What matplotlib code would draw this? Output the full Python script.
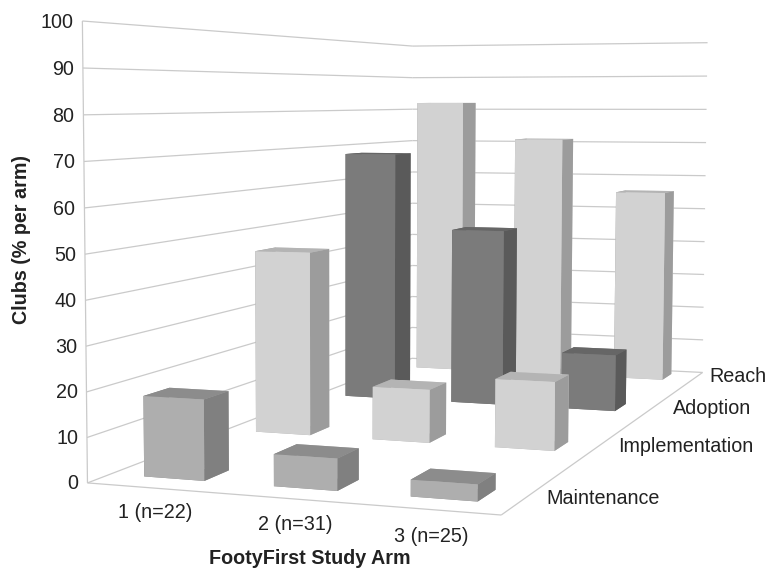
import numpy as np
import matplotlib
matplotlib.use('Agg')
from matplotlib import pyplot as plt
from mpl_toolkits.mplot3d import proj3d
from mpl_toolkits.mplot3d.art3d import Line3DCollection

plt.rcParams['font.family'] = ['Liberation Sans', 'DejaVu Sans']

arms = ['1 (n=22)', '2 (n=31)', '3 (n=25)']
stages = ['Maintenance', 'Implementation', 'Adoption', 'Reach']
maintenance = [18, 7, 3.6]
implementation = [45.5, 13, 16.5]
adoption = [68, 47.5, 15]
reach = [82, 71, 55.5]
yticks = list(range(0, 101, 10))

W, H = 769, 568

# box corners in world coords -> pixel position in the reference
world = [(0, 0, 0), (3, 0, 0), (3, 4, 0), (0, 4, 0),
         (0, 0, 100), (0, 4, 100), (3, 4, 100)]
pixel = [(88, 483), (500, 516), (703, 371), (412, 359),
         (83, 20), (412, 46), (708, 43.5)]


def fit_camera(world, pixel):
    """least squares camera matrix, returned as 4x4 for mplot3d"""
    A, b = [], []
    for (x, y, z), (u, v) in zip(world, pixel):
        A.append([x, y, z, 1, 0, 0, 0, 0, -u*x, -u*y, -u*z])
        A.append([0, 0, 0, 0, x, y, z, 1, -v*x, -v*y, -v*z])
        b += [u, v]
    p = np.linalg.lstsq(np.array(A, float), np.array(b, float), rcond=None)[0]
    return np.array([p[:4], p[4:8], [0, 0, 0, -1], [p[8], p[9], p[10], 1]])


M = fit_camera(world, pixel)

fig = plt.figure(figsize=(W/100, H/100), dpi=100)
ax = fig.add_axes([0, 0, 1, 1], projection='3d')
ax.computed_zorder = False
ax.get_proj = lambda: M
ax.apply_aspect = lambda position=None: None
ax.set_axis_off()
ax.set_xlim(0, 3), ax.set_ylim(0, 4), ax.set_zlim(0, 100)
ax.viewLim.intervalx = (0, W)
ax.viewLim.intervaly = (H, 0)

# walls and floor
segs = []
for v in yticks:
    segs.append([(0, 0, v), (0, 4, v)])
    segs.append([(0, 4, v), (3, 4, v)])
    px, py, _ = proj3d.proj_transform(-0.07, 0, v - 0.3, M)
    fig.text(px/W, 1 - py/H, str(v), ha='right', va='center', fontsize=14.2, color='#222222')
segs.append([(0, 0, 0), (3, 0, 0)])
segs.append([(3, 0, 0), (3, 4, 0)])
segs.append([(0, 0, 0), (0, 0, 100)])
ax.add_collection3d(Line3DCollection(segs, colors='#cacaca', linewidths=0.9, zorder=1))

light = ['#b0b0b0', '#b4b4b4', '#d2d2d2', '#d2d2d2', '#9c9c9c', '#9c9c9c']
mid = ['#8c8c8c', '#8c8c8c', '#aeaeae', '#aeaeae', '#808080', '#808080']
dark = ['#636363', '#666666', '#7b7b7b', '#7b7b7b', '#5a5a5a', '#5a5a5a']

series = [maintenance, implementation, adoption, reach]
colors = [mid, light, dark, light]
bw, bd = 0.47, 0.24
row_y = [0.32, 1.46, 2.62, 3.76]

zo = 10
for j in [3, 2, 1, 0]:
    for i in range(3):
        ax.bar3d(i + 0.5 - bw/2, row_y[j] - bd/2, 0, bw, bd, series[j][i],
                 color=colors[j], shade=False, zorder=zo, linewidth=0)
        zo += 1

arm_pos = [(155, 513), (295, 525), (431, 536)]
for lab, (px, py) in zip(arms, arm_pos):
    fig.text(px/W, 1 - py/H, lab, ha='center', va='center', fontsize=14.2, color='#222222')
stage_pos = [(546, 498), (618, 447), (673, 408), (709, 376)]
for lab, (px, py) in zip(stages, stage_pos):
    fig.text(px/W, 1 - py/H, lab, ha='left', va='center', fontsize=14.2, color='#222222')

fig.text(310/W, 1 - 558/H, 'FootyFirst Study Arm', ha='center', va='center',
         fontsize=14.2, fontweight='bold', color='#222222')
fig.text(22/W, 1 - 240/H, 'Clubs (% per arm)', ha='center', va='center', rotation=90,
         fontsize=14.2, fontweight='bold', color='#222222')

fig.savefig('out.png', dpi=100)
